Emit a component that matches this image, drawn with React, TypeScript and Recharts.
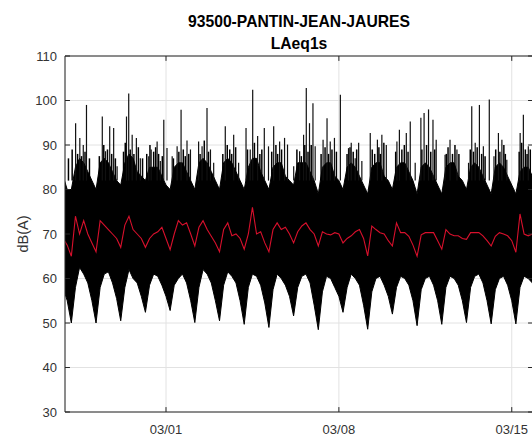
import { ComposedChart, Area, Line, XAxis, YAxis, CartesianGrid, ReferenceLine } from "recharts";

// time axis in days, 0 = 03/01 00:00
const tStart = -4.09;
const tEnd = 14.86;
const xTicks = [0, 7, 14];
const xTickLabels = ["03/01", "03/08", "03/15"];
const yTicks = [30, 40, 50, 60, 70, 80, 90, 100, 110];

// envelope of the 1 s samples, read every 4 h (00,04,08,12,16,20h)
// first sample = 25/02 20h, one row per day from 26/02
const firstSample = -4 - 4 / 24;
const sampleStep = 4 / 24;

const lowEnv = [
  58,
  55, 50, 58, 62.5, 61, 59,
  55, 50, 58, 61, 61.5, 59,
  55.5, 50.5, 58, 62, 60, 59,
  56, 52.4, 58.5, 61, 60.5, 58.5,
  56, 52.8, 58.5, 60, 61, 59,
  55, 50.1, 58, 62, 61, 59,
  55, 50.5, 58.5, 61.5, 60.5, 59,
  55, 49.7, 58, 61, 60.5, 58.5,
  54.5, 49, 57.5, 61, 60, 58.5,
  56, 51.6, 58, 60.5, 61, 59,
  54, 48.5, 57, 60.5, 60, 58,
  56, 52.4, 58, 61, 60, 58.5,
  54, 48.6, 57, 60, 60.5, 58.5,
  56, 52, 58, 60.5, 60, 58.5,
  55, 49.4, 57.5, 60, 60.5, 58.5,
  55, 49.7, 58, 60.5, 60, 58.5,
  55, 50.1, 58, 60.5, 61, 59,
  55, 49.8, 57.5, 60, 60.5, 58.5,
  55, 49.8, 58, 60.5, 60, 59,
  55,
];

const highEnv = [
  83,
  80, 80, 85, 87, 86, 84,
  82, 80, 86, 87, 86, 84,
  82, 81, 86, 88, 87, 84,
  83, 82, 85, 85, 85, 83,
  81, 80, 85, 86, 86, 84,
  82, 80, 86, 87, 86, 84,
  82, 80, 86, 87, 86, 84,
  82, 80, 85, 87, 87, 84,
  82, 80, 85, 86, 86, 83,
  82, 81, 86, 86, 86, 84,
  82, 79, 85, 86, 86, 83,
  82, 80, 85, 86, 85, 83,
  81, 79, 85, 86, 86, 83,
  82, 80, 85, 86, 86, 84,
  82, 79, 85, 86, 85, 83,
  81, 79, 85, 86, 86, 83,
  82, 80, 85, 86, 85, 83,
  81, 79, 85, 86, 85, 83,
  81, 79, 84, 85, 85, 83,
  81,
];

// red smoothed level
const smoothLevel = [
  69,
  67.5, 65, 74, 70, 73, 70,
  68, 66, 73, 72, 71, 70,
  69, 67, 72, 74, 71, 70,
  69, 67, 69, 70, 70.5, 71.5,
  69, 66.5, 70, 73, 72, 72.5,
  70, 67.3, 71.5, 73, 71, 69.5,
  68, 66, 71, 72.5, 69.6, 70,
  69, 66.6, 70, 76, 70, 70.5,
  68, 66, 71, 72.5, 71, 71.5,
  70, 68, 70.5, 71.8, 72.5, 71,
  70, 67.3, 70.5, 70, 69.8, 70.3,
  70, 68, 69, 69.6, 70.5, 71,
  69, 65.1, 71.8, 71, 70.3, 70,
  68.5, 67.3, 72.5, 70.3, 70.3, 69.5,
  67.5, 65, 69.8, 70.3, 70.3, 70.3,
  68.5, 66.6, 71, 70, 69.6, 69.6,
  69, 68.8, 70.3, 70.3, 70.3, 69.6,
  68.5, 67.3, 69.5, 70.3, 70, 69.6,
  68.5, 65.9, 74.5, 70, 69.6, 70,
  69,
];

// isolated peaks above the dense band
const spikeBase = 82;
const spikeTimes = [
  -3.66, -3.49, -3.35, -3.22, -2.58, -2.45, -2.28, -2.12, -1.98, -1.6, -1.51, -1.37,
  -1.2, -1.04, -0.7, -0.6, -0.36, -0.23, -0.09, 0.04, 0.25, 0.45, 0.61, 0.85,
  0.99, 1.32, 1.46, 1.66, 1.8, 1.93, 2.4, 2.74, 2.94, 3.24, 3.41, 3.51,
  3.71, 3.98, 4.15, 4.36, 4.6, 4.8, 4.92, 5.17, 5.41, 5.57, 5.68, 5.81,
  5.95, 6.04, 6.36, 6.52, 6.65, 6.82, 7.06, 7.39, 7.5, 7.66, 7.8, 7.93,
  8.27, 8.56, 8.74, 8.92, 9.35, 9.45, 9.73, 9.89, 10.09, 10.32, 10.45, 10.63,
  10.81, 10.94, 11.3, 11.5, 11.78, 12.25, 12.38, 12.52, 12.69, 12.85, 13.09, 13.28,
  13.46, 13.6, 13.8, 14.34, 14.47, 14.67,
];
const spikePeaks = [
  94.9, 91.6, 90, 99, 96.4, 88.6, 94.2, 93.8, 85.2, 96.4, 101.6, 92.3,
  91.6, 87, 87.5, 89, 90.8, 86.4, 95.7, 89.3, 87.5, 89.7, 97.9, 91,
  89, 90.8, 89.7, 98.3, 89, 86, 94.2, 92.3, 86, 93.8, 89, 102.4,
  92, 93.8, 89.7, 94.2, 90.8, 91.6, 90.1, 85.2, 88.6, 92.3, 102.8, 94.9,
  99.4, 89.7, 91.2, 96, 90.8, 91.6, 101.3, 89.3, 90.5, 87, 90.5, 86.4,
  92.7, 91.2, 92.3, 90, 90.8, 93.4, 92.7, 95.3, 86, 96.1, 97.2, 98,
  95.7, 91.2, 87.8, 91.2, 89, 86, 98.7, 90.5, 99, 89.7, 100.2, 87.5,
  92.7, 91.2, 86.7, 92.7, 96.8, 89.7,
];

// shorter peaks that thicken the top of the band
const grassTimes = [
  -3.95, -3.8, -3.58, -3.42, -3.28, -3.1, -2.7, -2.52, -2.37, -2.2, -2.05, -1.72,
  -1.65, -1.45, -1.3, -1.12, -0.95, -0.78, -0.65, -0.5, -0.42, -0.3, -0.15, 0.3,
  0.52, 0.7, 0.78, 0.92, 1.38, 1.55, 1.72, 2.3, 2.48, 2.58, 2.66, 2.82,
  3.3, 3.58, 3.8, 3.88, 4.28, 4.45, 4.52, 4.68, 5.3, 5.48, 5.62, 5.75,
  5.88, 6.28, 6.44, 6.58, 6.72, 6.9, 7.33, 7.45, 7.58, 7.72, 8.35, 8.45,
  8.62, 8.68, 8.82, 9.3, 9.55, 9.65, 9.8, 10.36, 10.55, 10.72, 10.88, 11.35,
  11.42, 11.6, 11.7, 11.86, 12.32, 12.45, 12.6, 12.78, 12.92, 13.35, 13.52, 13.68,
  13.74, 14.3, 14.4, 14.55, 14.62, 14.75,
];
const grassPeaks = [
  87, 89, 88, 87.5, 88.5, 87, 87.5, 90, 89, 88, 87, 88.5,
  90.5, 89, 88, 89.5, 87, 88, 90, 88.5, 89.5, 88, 87.5, 87,
  88.5, 89, 87.5, 88, 88, 91, 88.5, 88, 90, 89, 88, 89.5,
  89, 90.5, 88, 89, 88.5, 90, 88, 89, 89, 87.5, 90, 88.5,
  90, 88, 89.5, 88, 89, 88.5, 88, 89.5, 88.5, 89, 89, 88,
  89.5, 88, 90.5, 88.5, 89, 90, 88.5, 89, 90, 88.5, 89, 88,
  89.5, 88, 90, 88, 89, 88.5, 89.5, 88, 87.5, 89, 88.5, 90,
  88, 88.5, 90.5, 89, 88, 89,
];

const axisColor = "#262626";
const tickLenX = 0.2; // days
const tickLenY = 1.1; // dB

export default function App() {
  const data = lowEnv.map((lo, i) => ({
    t: firstSample + i * sampleStep,
    band: [lo, highEnv[i]],
    level: smoothLevel[i],
  }));

  return (
    <div
      style={{
        position: "absolute",
        left: 0,
        top: 0,
        width: 532,
        height: 437,
        overflow: "hidden",
        background: "#fff",
        fontFamily: '"Liberation Sans", Arial, sans-serif',
      }}
    >
      <ComposedChart
        width={540}
        height={437}
        data={data}
        margin={{ top: 56, right: 7, bottom: 0, left: 0 }}
      >
        <CartesianGrid stroke="#e2e2e2" />
        <XAxis
          dataKey="t"
          type="number"
          domain={[tStart, tEnd]}
          allowDataOverflow
          ticks={xTicks}
          interval={0}
          tickFormatter={(v) => xTickLabels[xTicks.indexOf(v)]}
          tickLine={false}
          tickSize={0}
          tickMargin={13}
          height={25}
          axisLine={{ stroke: axisColor }}
          tick={{ fill: "#333", fontSize: 13 }}
        />
        <YAxis
          type="number"
          domain={[30, 110]}
          allowDataOverflow
          ticks={yTicks}
          interval={0}
          width={65}
          tickLine={false}
          tickSize={0}
          tickMargin={8}
          axisLine={{ stroke: axisColor }}
          tick={{ fill: "#333", fontSize: 13 }}
        />
        <Area
          dataKey="band"
          type="linear"
          stroke="#000"
          strokeWidth={1}
          fill="#000"
          fillOpacity={1}
          dot={false}
          activeDot={false}
          isAnimationActive={false}
        />
        <Line
          dataKey="level"
          type="linear"
          stroke="#d8102c"
          strokeWidth={1.1}
          dot={false}
          activeDot={false}
          isAnimationActive={false}
        />
        {grassTimes.map((t, i) => (
          <ReferenceLine
            key={"g" + i}
            segment={[
              { x: t, y: spikeBase },
              { x: t, y: grassPeaks[i] },
            ]}
            stroke="#000"
            strokeWidth={1.5}
          />
        ))}
        {spikeTimes.map((t, i) => (
          <ReferenceLine
            key={"s" + i}
            segment={[
              { x: t, y: spikeBase },
              { x: t, y: spikePeaks[i] },
            ]}
            stroke="#111"
            strokeWidth={1.2}
          />
        ))}
        <ReferenceLine y={110} stroke={axisColor} />
        <ReferenceLine x={tEnd} stroke={axisColor} />
        {yTicks.map((v) => (
          <ReferenceLine
            key={"yl" + v}
            segment={[
              { x: tStart, y: v },
              { x: tStart + tickLenX, y: v },
            ]}
            stroke={axisColor}
          />
        ))}
        {yTicks.map((v) => (
          <ReferenceLine
            key={"yr" + v}
            segment={[
              { x: tEnd - tickLenX, y: v },
              { x: tEnd, y: v },
            ]}
            stroke={axisColor}
          />
        ))}
        {xTicks.map((v) => (
          <ReferenceLine
            key={"xb" + v}
            segment={[
              { x: v, y: 30 },
              { x: v, y: 30 + tickLenY },
            ]}
            stroke={axisColor}
          />
        ))}
        {xTicks.map((v) => (
          <ReferenceLine
            key={"xt" + v}
            segment={[
              { x: v, y: 110 },
              { x: v, y: 110 - tickLenY },
            ]}
            stroke={axisColor}
          />
        ))}
      </ComposedChart>
      <div
        style={{
          position: "absolute",
          left: 65,
          top: 11,
          width: 468,
          textAlign: "center",
          fontWeight: "bold",
          fontSize: 15.7,
          lineHeight: "22px",
          color: "#000",
        }}
      >
        <div>93500-PANTIN-JEAN-JAURES</div>
        <div>LAeq1s</div>
      </div>
      <div
        style={{
          position: "absolute",
          left: 23,
          top: 234,
          transform: "translate(-50%, -50%) rotate(-90deg)",
          fontSize: 14.5,
          color: "#333",
          whiteSpace: "nowrap",
        }}
      >
        dB(A)
      </div>
    </div>
  );
}
